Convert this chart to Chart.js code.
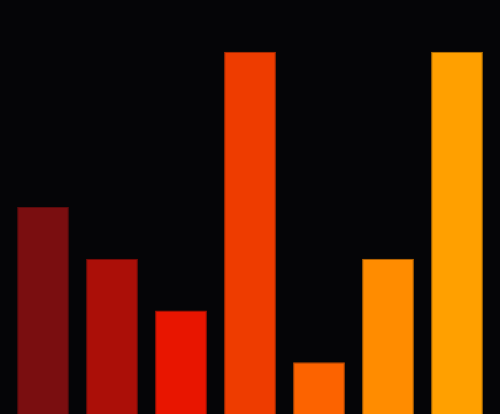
<!DOCTYPE html>
<html>
<head>
<meta charset="utf-8">
<script src="https://cdn.jsdelivr.net/npm/chart.js@4/dist/chart.umd.min.js"></script>
<style>
  html, body { margin: 0; padding: 0; background: #050507; }
  #wrap { width: 500px; height: 414px; }
</style>
</head>
<body>
<div id="wrap"><canvas id="myChart"></canvas></div>
<script>
const labels = ['A', 'B', 'C', 'D', 'E', 'F', 'G'];
const values = [4, 3, 2, 7, 1, 3, 7];
const barColors = ['#7a0e10', '#ab0f08', '#e81500', '#ee3c00', '#fc6300', '#ff8c00', '#ffa000'];
const edgeColors = ['#5a0a0c', '#7f0b06', '#b01000', '#b82e00', '#c04b00', '#c06a00', '#c07800'];

const ctx = document.getElementById('myChart').getContext('2d');
const myChart = new Chart(ctx, {
    type: 'bar',
    data: {
        labels: labels,
        datasets: [{
            data: values,
            backgroundColor: barColors,
            borderColor: edgeColors,
            borderWidth: 1,
            barPercentage: 0.75,
            categoryPercentage: 1
        }]
    },
    options: {
        responsive: true,
        maintainAspectRatio: false,
        animation: false,
        layout: { padding: { left: 8.5, right: 8.5, top: 0, bottom: 0 } },
        plugins: { legend: { display: false }, tooltip: { enabled: false } },
        scales: {
            x: { display: false },
            y: { display: false, min: 0, max: 8 }
        }
    }
});
</script>
</body>
</html>
